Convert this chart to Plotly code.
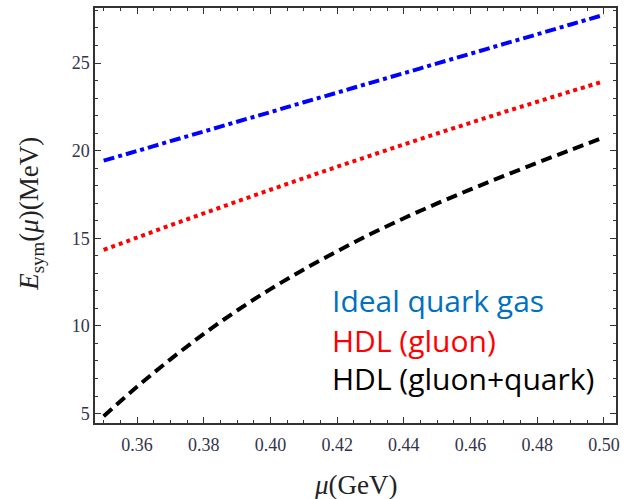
import plotly.graph_objects as go

# chemical potential mu (GeV)
mu = [0.35, 0.36, 0.37, 0.38, 0.39, 0.40, 0.41, 0.42,
      0.43, 0.44, 0.45, 0.46, 0.47, 0.48, 0.49, 0.50]

# symmetry energy E_sym(mu) in MeV
ideal_quark_gas = [19.43, 19.98, 20.54, 21.09, 21.65, 22.20, 22.76, 23.31,
                   23.87, 24.42, 24.98, 25.53, 26.09, 26.64, 27.20, 27.75]
hdl_gluon = [14.34, 15.04, 15.74, 16.42, 17.10, 17.77, 18.43, 19.08,
             19.72, 20.35, 20.98, 21.59, 22.20, 22.79, 23.38, 23.96]
hdl_gluon_quark = [4.85, 6.53, 8.09, 9.54, 10.88, 12.10, 13.22, 14.26,
                   15.24, 16.14, 16.99, 17.79, 18.56, 19.31, 20.04, 20.76]

labels = ["Ideal quark gas", "HDL (gluon)", "HDL (gluon+quark)"]
label_colors = ["#0070C0", "#FF0000", "#000000"]
label_y = [11.47, 9.19, 7.02]

fig = go.Figure()
fig.add_trace(go.Scatter(x=mu, y=ideal_quark_gas, mode="lines", line_shape="spline",
                         line=dict(color="#0000FF", width=4, dash="11px,4px,4px,4px")))
fig.add_trace(go.Scatter(x=mu, y=hdl_gluon, mode="lines", line_shape="spline",
                         line=dict(color="#FF0000", width=4, dash="4px,4px")))
fig.add_trace(go.Scatter(x=mu, y=hdl_gluon_quark, mode="lines", line_shape="spline",
                         line=dict(color="#000000", width=4, dash="11px,6px")))

# text legend inside the frame
for txt, col, ly in zip(labels, label_colors, label_y):
    fig.add_annotation(x=0.4180, y=ly, xref="x", yref="y",
                       text=txt, showarrow=False, xanchor="left", yanchor="middle",
                       font=dict(family="Open Sans", size=30, color=col))

tick_font = dict(family="Liberation Serif", size=18, color="#33334a")
title_font = dict(family="Liberation Serif", size=27, color="#222222")

# axis titles
fig.add_annotation(x=0.5, y=-0.149, xref="paper", yref="paper",
                   text="<i>μ</i>(GeV)", showarrow=False,
                   xanchor="center", yanchor="middle", font=title_font)
fig.add_annotation(x=-0.123, y=0.504, xref="paper", yref="paper",
                   text="<i>E</i><sub>sym</sub>(<i>μ</i>)(MeV)", showarrow=False,
                   textangle=-90, xanchor="center", yanchor="middle", font=title_font)

axis_common = dict(
    showline=True, linecolor="#333333", linewidth=1.5, mirror="allticks",
    ticks="inside", tickcolor="#333333", tickwidth=1.2, ticklen=6,
    showgrid=False, zeroline=False, tickfont=tick_font, automargin=False,
)

fig.update_xaxes(
    range=[0.3474, 0.5036], tick0=0.36, dtick=0.02, tickformat=".2f",
    ticklabelstandoff=5,
    minor=dict(dtick=0.005, tick0=0.35, ticks="inside", ticklen=3,
               tickcolor="#333333", tickwidth=1.2),
    **axis_common,
)
fig.update_yaxes(
    range=[4.46, 28.14], tick0=5, dtick=5,
    minor=dict(dtick=1, tick0=5, ticks="inside", ticklen=3,
               tickcolor="#333333", tickwidth=1.2),
    **axis_common,
)

fig.update_layout(
    width=627, height=499,
    margin=dict(l=95, r=11, t=8, b=76),
    paper_bgcolor="white", plot_bgcolor="white",
    showlegend=False,
)

fig.write_html("out.html")
